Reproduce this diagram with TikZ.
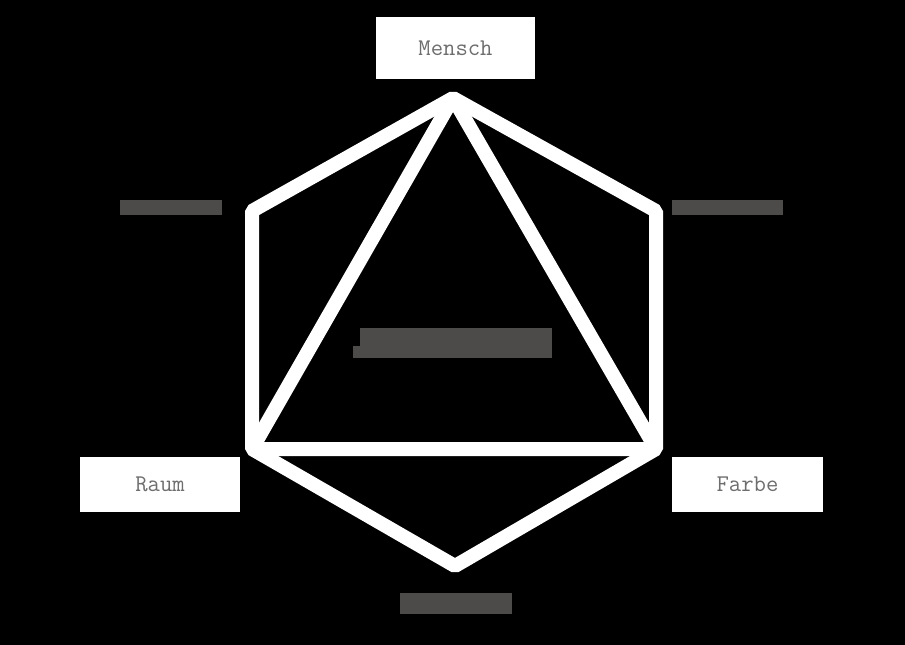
\documentclass[tikz,border=0pt]{standalone}
\definecolor{textgray}{HTML}{6E6E6E}
\definecolor{bargray}{HTML}{4D4A4A}
\tikzset{
  labelbox/.style={fill=white, inner sep=0pt, text=textgray,
    font=\ttfamily\fontsize{24}{24}\selectfont},
  graybar/.style={fill=bargray, inner sep=0pt},
  edgeline/.style={draw=white, line width=14pt, line join=bevel}
}
\begin{document}
\begin{tikzpicture}[x=1pt,y=-1pt]
\fill[black] (0,0) rectangle (905,645);
\coordinate (top) at (453,98);
\coordinate (ul) at (252,211);
\coordinate (ll) at (252,449);
\coordinate (bot) at (455,566);
\coordinate (lr) at (656,449);
\coordinate (ur) at (656,211);
\draw[edgeline] (top)--(ul)--(ll)--(bot)--(lr)--(ur)--cycle;
\draw[edgeline] (top)--(ll)--(lr)--cycle;
\node[labelbox, minimum width=159pt, minimum height=62pt] (mensch) at (455.5,48) {Mensch};
\node[labelbox, minimum width=160pt, minimum height=55pt] (raum) at (160,484.5) {Raum};
\node[labelbox, minimum width=151pt, minimum height=55pt] (farbe) at (747.5,484.5) {Farbe};
\node[graybar, minimum width=102pt, minimum height=15pt] (leftbar) at (171,207.5) {};
\node[graybar, minimum width=111pt, minimum height=15pt] (rightbar) at (727.5,207.5) {};
\node[graybar, minimum width=192pt, minimum height=18pt] (centerbar) at (456,337) {};
\node[graybar, minimum width=199pt, minimum height=12pt] (centerbase) at (452.5,352) {};
\node[graybar, minimum width=112pt, minimum height=21pt] (bottombar) at (456,603.5) {};
\end{tikzpicture}
\end{document}
